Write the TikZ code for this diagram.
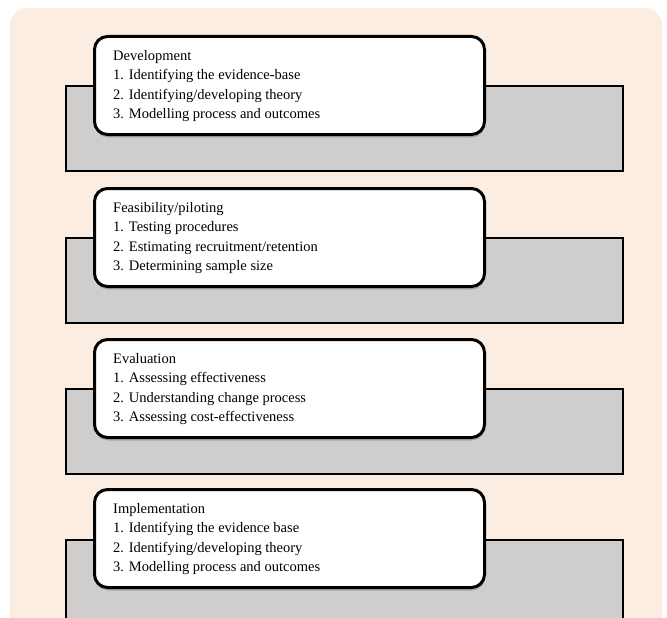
\documentclass[tikz,border=0pt]{standalone}
\usepackage{fontspec}
\setmainfont{Liberation Serif}
\usetikzlibrary{shadows}
\definecolor{peach}{RGB}{252,237,226}
\definecolor{greyfill}{RGB}{207,206,205}
\begin{document}
\begin{tikzpicture}[x=1pt,y=-1pt,
  stagebar/.style={draw=black,line width=1.6pt,fill=greyfill},
  stagebox/.style={draw=black,line width=3pt,fill=white,rounded corners=13pt,
    drop shadow={shadow xshift=0.5pt,shadow yshift=-3pt,opacity=0.35,fill=black!60}},
  stagetext/.style={anchor=base west,align=left,inner sep=0pt,
    font=\fontsize{14.5pt}{19.5pt}\selectfont}]
\useasboundingbox (0,0) rectangle (667,618);
\begin{scope}
\clip (0,0) rectangle (667,618);
\fill[peach,rounded corners=17pt] (10,8) rectangle (662,660);
\foreach \t [count=\i] in {85,237,388,539}{
  \node[stagebar,anchor=north west,minimum width=557pt,minimum height=85pt,inner sep=0pt] (bar\i) at (65,\t) {};
}
\end{scope}
\node[stagebox,anchor=north west,minimum width=390pt,minimum height=98pt,inner sep=0pt] (box1) at (93,35) {};
\node[stagebox,anchor=north west,minimum width=390pt,minimum height=98pt,inner sep=0pt] (box2) at (93,187) {};
\node[stagebox,anchor=north west,minimum width=390pt,minimum height=98pt,inner sep=0pt] (box3) at (93,338) {};
\node[stagebox,anchor=north west,minimum width=390pt,minimum height=98pt,inner sep=0pt] (box4) at (93,488) {};
\node[stagetext] (txt1) at (113,118.5) {Development\\1. Identifying the evidence-base\\2. Identifying/developing theory\\3. Modelling process and outcomes};
\node[stagetext] (txt2) at (113,270.5) {Feasibility/piloting\\1. Testing procedures\\2. Estimating recruitment/retention\\3. Determining sample size};
\node[stagetext] (txt3) at (113,421.5) {Evaluation\\1. Assessing effectiveness\\2. Understanding change process\\3. Assessing cost-effectiveness};
\node[stagetext] (txt4) at (113,571.5) {Implementation\\1. Identifying the evidence base\\2. Identifying/developing theory\\3. Modelling process and outcomes};
\end{tikzpicture}
\end{document}
